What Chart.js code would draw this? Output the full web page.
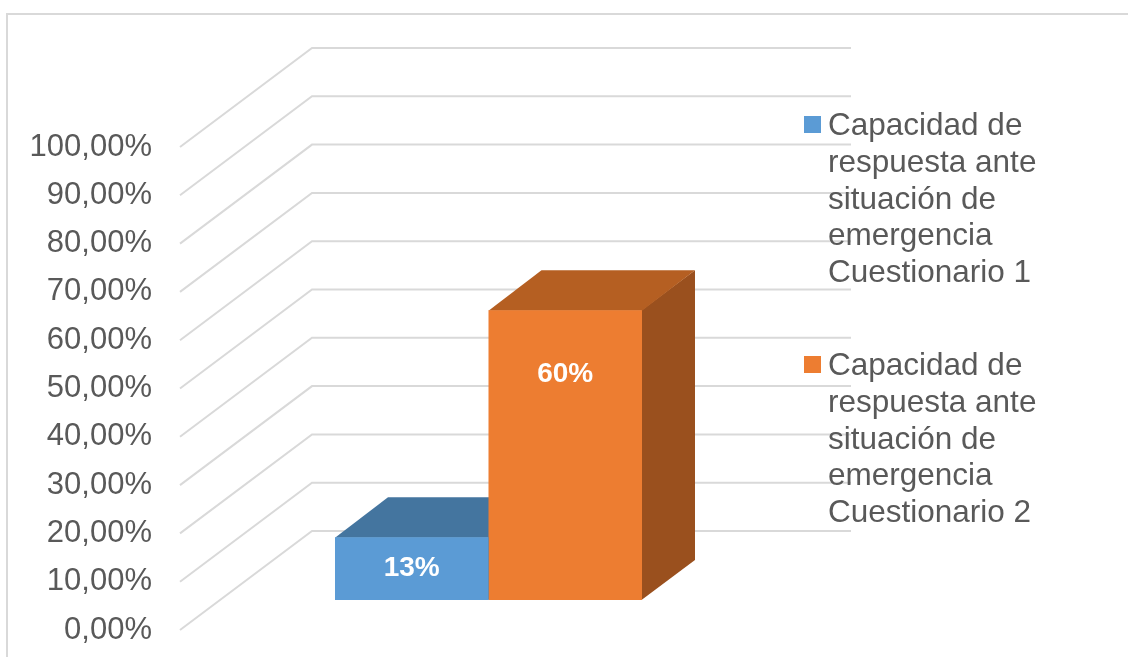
<!DOCTYPE html>
<html><head><meta charset="utf-8">
<script src="https://cdn.jsdelivr.net/npm/chart.js@4.4.0/dist/chart.umd.min.js"></script>
<style>html,body{margin:0;padding:0;background:#fff;overflow:hidden}#wrap{width:1128px;height:657px;position:relative}canvas{display:block}</style>
</head><body><div id="wrap"><canvas id="c" width="1128" height="657"></canvas></div>
<script>
// ---- data ----
const categories = [''];
const seriesNames = [
  ['Capacidad de', 'respuesta ante', 'situación de', 'emergencia', 'Cuestionario 1'],
  ['Capacidad de', 'respuesta ante', 'situación de', 'emergencia', 'Cuestionario 2']
];
const series1 = [0.13];
const series2 = [0.60];
const dataLabels1 = ['13%'];
const dataLabels2 = ['60%'];
const tickLabels = ['0,00%', '10,00%', '20,00%', '30,00%', '40,00%', '50,00%', '60,00%', '70,00%', '80,00%', '90,00%', '100,00%'];

// ---- styles ----
const frontColors = ['#5B9BD5', '#ED7D31'];
const topColors = ['#44759F', '#B55F22'];
const sideColors = ['#3B6890', '#9A501E'];
const textColor = '#595959';
const gridColor = '#D9D9D9';
const FONT = '"Liberation Sans", Arial, sans-serif';
const BAR_DX = 53, BAR_DY = -40;      // bar depth
const FRONT_DX = -40, FRONT_DY = 30;  // bar plane -> front edge of floor
const BACK_DX = 92, BACK_DY = -69;    // bar plane -> back wall

const threeD = {
  id: 'threeD',
  beforeDraw(chart) {
    const ctx = chart.ctx;
    ctx.save();
    ctx.strokeStyle = gridColor;
    ctx.lineWidth = 2;
    ctx.strokeRect(7, 14, 1300, 800);
    ctx.restore();
  },
  beforeDatasetsDraw(chart) {
    const ctx = chart.ctx, ys = chart.scales.y, ca = chart.chartArea;
    ctx.save();
    ctx.strokeStyle = gridColor;
    ctx.lineWidth = 2;
    ys.ticks.forEach(t => {
      const yb = ys.getPixelForValue(t.value);
      ctx.beginPath();
      ctx.moveTo(ca.left + FRONT_DX, yb + FRONT_DY);
      ctx.lineTo(ca.left + BACK_DX, yb + BACK_DY);
      ctx.lineTo(ca.right + BACK_DX + 2, yb + BACK_DY);
      ctx.stroke();
    });
    // top and side faces
    chart.data.datasets.forEach((ds, di) => {
      const meta = chart.getDatasetMeta(di);
      meta.data.forEach(el => {
        const l = el.x - el.width / 2, r = el.x + el.width / 2, t = el.y, b = el.base;
        ctx.fillStyle = sideColors[di];
        ctx.beginPath();
        ctx.moveTo(r - 0.5, t); ctx.lineTo(r + BAR_DX, t + BAR_DY);
        ctx.lineTo(r + BAR_DX, b + BAR_DY); ctx.lineTo(r - 0.5, b);
        ctx.closePath(); ctx.fill();
        ctx.fillStyle = topColors[di];
        ctx.beginPath();
        ctx.moveTo(l, t + 0.5); ctx.lineTo(l + BAR_DX, t + BAR_DY);
        ctx.lineTo(r + BAR_DX, t + BAR_DY); ctx.lineTo(r, t + 0.5);
        ctx.closePath(); ctx.fill();
      });
    });
    ctx.restore();
  },
  afterDatasetsDraw(chart) {
    const ctx = chart.ctx;
    const labels = [dataLabels1, dataLabels2];
    ctx.save();
    ctx.fillStyle = '#FFFFFF';
    ctx.font = 'bold 28px ' + FONT;
    ctx.textAlign = 'center';
    ctx.textBaseline = 'middle';
    chart.data.datasets.forEach((ds, di) => {
      chart.getDatasetMeta(di).data.forEach((el, i) => {
        const y = Math.min((el.y + el.base) / 2, el.y + 64);
        ctx.fillText(labels[di][i], el.x, y);
      });
    });
    // legend
    ctx.font = '31.5px ' + FONT;
    ctx.textAlign = 'left';
    ctx.textBaseline = 'alphabetic';
    const starts = [135, 375];
    seriesNames.forEach((lines, di) => {
      ctx.fillStyle = frontColors[di];
      ctx.fillRect(804, starts[di] - 19, 17, 17);
      ctx.fillStyle = textColor;
      lines.forEach((ln, k) => ctx.fillText(ln, 828, starts[di] + k * 36.75));
    });
    ctx.restore();
  }
};

new Chart(document.getElementById('c'), {
  type: 'bar',
  data: {
    labels: categories,
    datasets: [
      { label: seriesNames[0].join(' '), data: series1, backgroundColor: frontColors[0], borderWidth: 0 },
      { label: seriesNames[1].join(' '), data: series2, backgroundColor: frontColors[1], borderWidth: 0 }
    ]
  },
  options: {
    responsive: false,
    animation: false,
    devicePixelRatio: 1,
    datasets: { bar: { categoryPercentage: 0.5717, barPercentage: 1 } },
    layout: { padding: { left: 0, right: 371, top: 117, bottom: 57 } },
    plugins: { legend: { display: false }, tooltip: { enabled: false } },
    scales: {
      x: { display: false },
      y: {
        min: 0, max: 1,
        grid: { display: false, drawTicks: false },
        border: { display: false },
        ticks: {
          stepSize: 0.1,
          padding: 68,
          labelOffset: 30,
          color: textColor,
          font: { family: FONT, size: 31 },
          callback: (v, i) => tickLabels[i]
        },
        afterFit: s => { s.width = 220; s.paddingTop = 0; s.paddingBottom = 0; }
      }
    }
  },
  plugins: [threeD]
});
</script>
</body></html>
